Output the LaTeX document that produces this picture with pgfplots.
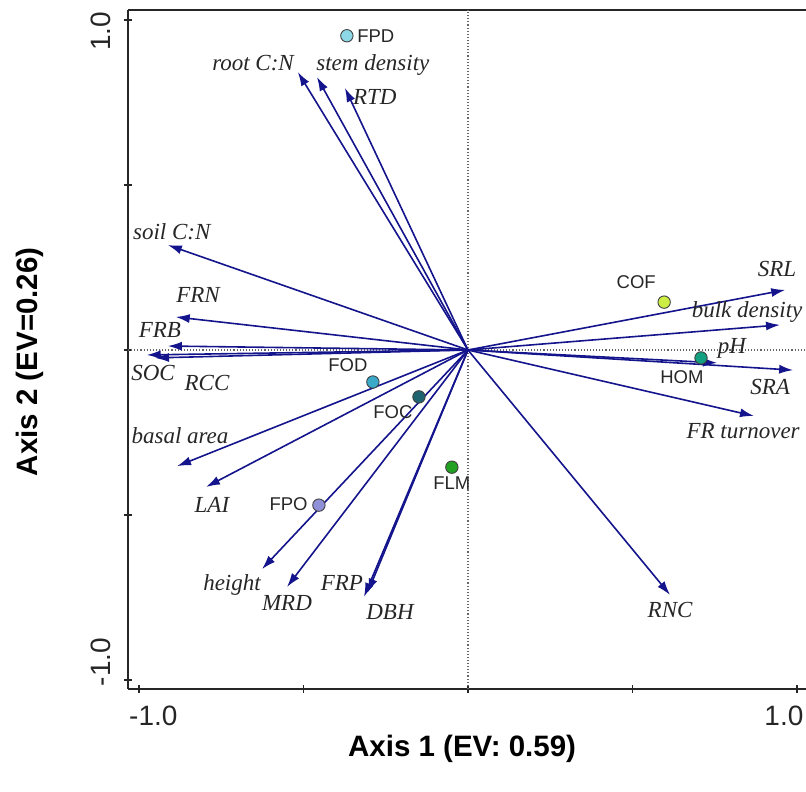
\documentclass[border=0pt]{standalone}
\usepackage{fontspec}
\setmainfont{Liberation Sans}
\newfontfamily\timesfont{Liberation Serif}
\usepackage{pgfplots}
\pgfplotsset{compat=1.18}
\usetikzlibrary{arrows.meta}
\definecolor{arr}{RGB}{20,20,140}
\definecolor{cFPD}{RGB}{141,216,230}
\definecolor{cCOF}{RGB}{204,238,68}
\definecolor{cHOM}{RGB}{18,160,128}
\definecolor{cFOD}{RGB}{58,170,200}
\definecolor{cFOC}{RGB}{30,100,112}
\definecolor{cFLM}{RGB}{34,160,34}
\definecolor{cFPO}{RGB}{144,144,216}
\tikzset{
 vec/.style={arr, line width=1.6pt, -{Latex[length=14pt,width=9pt]}},
 lab/.style={font=\timesfont\itshape\fontsize{23}{26}\selectfont, text=black!85, inner sep=0pt},
 site/.style={font=\fontsize{18.5}{21}\selectfont, text=black!85, inner sep=0pt},
 mk/.style={only marks, mark=*, mark size=6.2pt, mark options={draw=black!75, fill=#1, line width=0.9pt}},
}
\begin{document}
\begin{tikzpicture}
\begin{axis}[
 at={(128pt,103pt)}, anchor=south west,
 width=678pt, height=679pt, scale only axis,
 xmin=-1.033, xmax=1.027, ymin=-1.027, ymax=1.030,
 axis x line*=bottom, axis y line*=left,
 axis line style={line width=1.3pt, black!85},
 xtick={-1,-0.5,0,0.5,1}, ytick={-1,-0.5,0,0.5,1},
 xticklabels={}, yticklabels={},
 tick align=center, major tick length=8pt,
 tick style={line width=1.3pt, black!85},
 clip=false,
]
% top frame line
\draw[line width=1.3pt, black!85] (rel axis cs:0,1) -- (rel axis cs:1,1);
% zero lines
\addplot[black!60, dotted, line width=1.1pt] coordinates {(0,-1.027) (0,1.03)};
\addplot[black!60, dotted, line width=1.1pt] coordinates {(-1.033,0) (1.027,0)};
% vectors
\addplot[vec] coordinates {(0,0) (-0.517,0.842)}; % root C:N
\addplot[vec] coordinates {(0,0) (-0.459,0.827)}; % stem density
\addplot[vec] coordinates {(0,0) (-0.374,0.794)}; % RTD
\addplot[vec] coordinates {(0,0) (-0.912,0.318)}; % soil C:N
\addplot[vec] coordinates {(0,0) (-0.888,0.100)}; % FRN
\addplot[vec] coordinates {(0,0) (-0.912,0.012)}; % FRB
\addplot[vec] coordinates {(0,0) (-0.976,-0.015)}; % SOC
\addplot[vec] coordinates {(0,0) (-0.951,-0.024)}; % RCC
\addplot[vec] coordinates {(0,0) (-0.884,-0.352)}; % basal area
\addplot[vec] coordinates {(0,0) (-0.796,-0.415)}; % LAI
\addplot[vec] coordinates {(0,0) (-0.626,-0.664)}; % height
\addplot[vec] coordinates {(0,0) (-0.550,-0.718)}; % MRD
\addplot[vec] coordinates {(0,0) (-0.305,-0.735)}; % FRP
\addplot[vec] coordinates {(0,0) (-0.316,-0.748)}; % DBH
\addplot[vec] coordinates {(0,0) (0.614,-0.742)}; % RNC
\addplot[vec] coordinates {(0,0) (0.964,0.182)}; % SRL
\addplot[vec] coordinates {(0,0) (0.948,0.076)}; % bulk density
\addplot[vec] coordinates {(0,0) (0.757,-0.039)}; % pH
\addplot[vec] coordinates {(0,0) (0.988,-0.061)}; % SRA
\addplot[vec] coordinates {(0,0) (0.869,-0.200)}; % FR turnover
% vector labels
\node[lab] at (axis cs:-0.653,0.870) {root C:N};
\node[lab] at (axis cs:-0.289,0.864) {stem density};
\node[lab] at (axis cs:-0.283,0.767) {RTD};
\node[lab] at (axis cs:-0.900,0.358) {soil C:N};
\node[lab] at (axis cs:-0.820,0.167) {FRN};
\node[lab] at (axis cs:-0.936,0.061) {FRB};
\node[lab] at (axis cs:-0.957,-0.070) {SOC};
\node[lab] at (axis cs:-0.793,-0.100) {RCC};
\node[lab] at (axis cs:-0.875,-0.260) {basal area};
\node[lab] at (axis cs:-0.778,-0.470) {LAI};
\node[lab] at (axis cs:-0.717,-0.712) {height};
\node[lab] at (axis cs:-0.550,-0.767) {MRD};
\node[lab] at (axis cs:-0.383,-0.706) {FRP};
\node[lab] at (axis cs:-0.237,-0.794) {DBH};
\node[lab] at (axis cs:0.614,-0.788) {RNC};
\node[lab] at (axis cs:0.939,0.245) {SRL};
\node[lab] at (axis cs:0.848,0.115) {bulk density};
\node[lab] at (axis cs:0.802,0.006) {pH};
\node[lab] at (axis cs:0.918,-0.112) {SRA};
\node[lab] at (axis cs:0.836,-0.245) {FR turnover};
% sites
\addplot[mk=cFPD] coordinates {(-0.368,0.952)};
\addplot[mk=cCOF] coordinates {(0.596,0.145)};
\addplot[mk=cHOM] coordinates {(0.708,-0.024)};
\addplot[mk=cFOD] coordinates {(-0.289,-0.097)};
\addplot[mk=cFOC] coordinates {(-0.149,-0.142)};
\addplot[mk=cFLM] coordinates {(-0.049,-0.355)};
\addplot[mk=cFPO] coordinates {(-0.453,-0.470)};
\node[site] at (axis cs:-0.280,0.952) {FPD};
\node[site] at (axis cs:0.511,0.206) {COF};
\node[site] at (axis cs:0.650,-0.082) {HOM};
\node[site] at (axis cs:-0.365,-0.045) {FOD};
\node[site] at (axis cs:-0.228,-0.188) {FOC};
\node[site] at (axis cs:-0.049,-0.403) {FLM};
\node[site] at (axis cs:-0.545,-0.467) {FPO};
% tick labels
\node[font=\fontsize{28}{30}\selectfont, text=black!85] at (axis cs:-0.956,-1.109) {-1.0};
\node[font=\fontsize{28}{30}\selectfont, text=black!85] at (axis cs:0.960,-1.109) {1.0};
\node[font=\fontsize{28}{30}\selectfont, text=black!85, rotate=90] at (axis cs:-1.115,0.966) {1.0};
\node[font=\fontsize{28}{30}\selectfont, text=black!85, rotate=90] at (axis cs:-1.115,-0.945) {-1.0};
% axis titles
\node[font=\bfseries\fontsize{29.5}{32}\selectfont] at (axis cs:-0.018,-1.207) {Axis 1 (EV: 0.59)};
\node[font=\bfseries\fontsize{29.5}{32}\selectfont, rotate=90] at (axis cs:-1.331,-0.036) {Axis 2 (EV=0.26)};
\end{axis}
\pgfresetboundingbox
\useasboundingbox (0,0) rectangle (806pt,792pt);
\end{tikzpicture}
\end{document}
